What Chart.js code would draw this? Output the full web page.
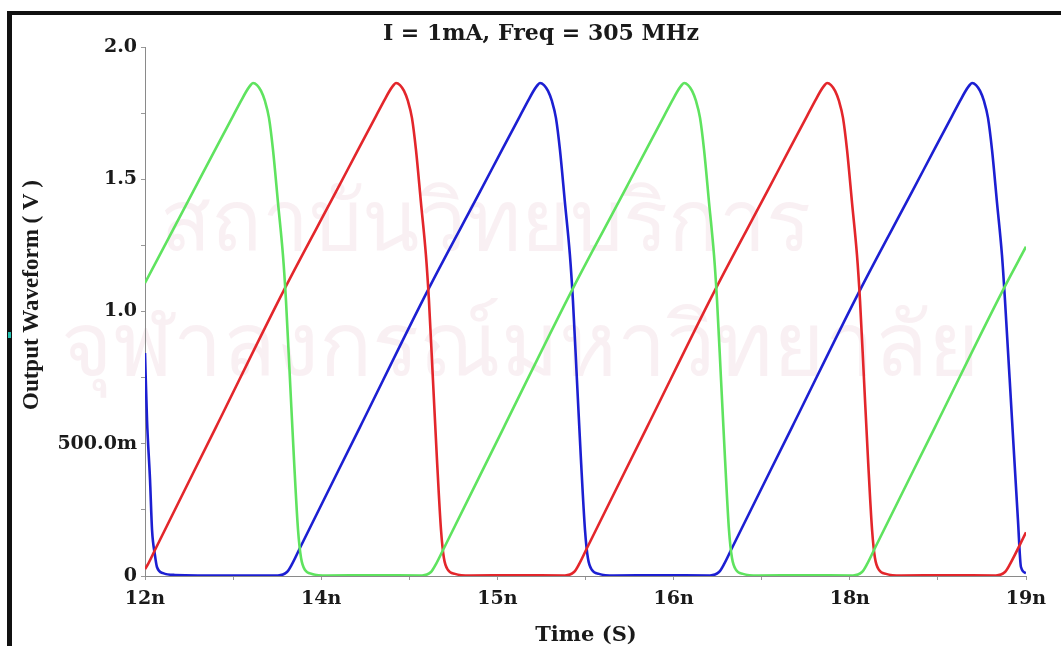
<!DOCTYPE html>
<html><head><meta charset="utf-8">
<script src="https://cdn.jsdelivr.net/npm/chart.js@4.4.1/dist/chart.umd.min.js"></script>
<style>html,body{margin:0;padding:0;background:#fff;overflow:hidden}#wrap{width:1061px;height:646px}</style>
</head><body><div id="wrap"><canvas id="c" width="1061" height="646"></canvas></div>
<script>
const CHART_TITLE = 'I = 1mA, Freq = 305 MHz';
const X_TITLE = 'Time (S)';
const Y_TITLE = 'Output Waveform ( V )';
const WATERMARK = ['สถาบันวิทยบริการ', 'จุฬาลงกรณ์มหาวิทยาลัย'];

const X_TICK_LABELS = ['12n', '', '14n', '', '15n', '', '16n', '', '18n', '', '19n'];
const Y_TICK_LABELS = ['0', '', '500.0m', '', '1.0', '', '1.5', '', '2.0'];

// time in ns, voltage in V
const greenT = [12.000, 12.381, 12.564, 12.699, 12.763, 12.802, 12.834, 12.858, 12.890, 12.922, 12.953, 12.985, 13.017, 13.057, 13.096, 13.120, 13.152, 13.184, 13.216, 13.240, 13.271, 13.327, 13.446, 13.812,
  14.201, 14.272, 14.312, 14.376, 14.852, 15.393, 15.806, 15.989, 16.124, 16.188, 16.227, 16.259, 16.283, 16.315, 16.347, 16.378, 16.410, 16.442, 16.482, 16.521, 16.545, 16.577, 16.609, 16.640, 16.664, 16.696, 16.751, 16.871, 17.244,
  17.625, 17.697, 17.737, 17.800, 18.277, 18.817, 19.000];
const greenV = [1.108, 1.452, 1.618, 1.739, 1.796, 1.830, 1.853, 1.864, 1.856, 1.834, 1.796, 1.732, 1.611, 1.410, 1.214, 1.043, 0.741, 0.439, 0.174, 0.068, 0.023, 0.008, 0.002, 0.003,
  0.002, 0.015, 0.045, 0.106, 0.563, 1.081, 1.452, 1.618, 1.739, 1.796, 1.830, 1.853, 1.864, 1.856, 1.834, 1.796, 1.732, 1.611, 1.410, 1.214, 1.043, 0.741, 0.439, 0.174, 0.068, 0.023, 0.008, 0.002, 0.003,
  0.002, 0.015, 0.045, 0.106, 0.563, 1.081, 1.245];

const redT = [12.000, 12.024, 12.087, 12.564, 13.104, 13.517, 13.700, 13.835, 13.899, 13.938, 13.970, 13.994, 14.026, 14.058, 14.089, 14.121, 14.153, 14.193, 14.232, 14.256, 14.288, 14.320, 14.352, 14.375, 14.407, 14.463, 14.582, 14.947,
  15.337, 15.409, 15.449, 15.512, 15.989, 16.529, 16.942, 17.125, 17.260, 17.324, 17.363, 17.395, 17.419, 17.451, 17.483, 17.514, 17.546, 17.578, 17.618, 17.657, 17.681, 17.713, 17.745, 17.777, 17.800, 17.832, 17.888, 18.007, 18.372,
  18.761, 18.833, 18.873, 19.000];
const redV = [0.026, 0.045, 0.106, 0.563, 1.081, 1.452, 1.618, 1.739, 1.796, 1.830, 1.853, 1.864, 1.856, 1.834, 1.796, 1.732, 1.611, 1.410, 1.214, 1.043, 0.741, 0.439, 0.174, 0.068, 0.023, 0.008, 0.002, 0.003,
  0.002, 0.015, 0.045, 0.106, 0.563, 1.081, 1.452, 1.618, 1.739, 1.796, 1.830, 1.853, 1.864, 1.856, 1.834, 1.796, 1.732, 1.611, 1.410, 1.214, 1.043, 0.741, 0.439, 0.174, 0.068, 0.023, 0.008, 0.002, 0.003,
  0.002, 0.015, 0.045, 0.165];

const blueT = [12.000, 12.016, 12.040, 12.056, 12.079, 12.095, 12.143, 12.238, 12.675,
  13.056, 13.128, 13.168, 13.231, 13.708, 14.248, 14.661, 14.844, 14.979, 15.043, 15.082, 15.114, 15.138, 15.170, 15.202, 15.233, 15.265, 15.297, 15.337, 15.376, 15.400, 15.432, 15.464, 15.496, 15.519, 15.551, 15.607, 15.726, 16.091,
  16.489, 16.561, 16.601, 16.664, 17.141, 17.681, 18.094, 18.277, 18.412, 18.476, 18.515, 18.547, 18.571, 18.603, 18.635, 18.666, 18.698, 18.730, 18.770, 18.809, 18.833, 18.889, 18.936, 18.960, 19.000];
const blueV = [0.843, 0.590, 0.363, 0.174, 0.079, 0.034, 0.011, 0.004, 0.002,
  0.002, 0.015, 0.045, 0.106, 0.563, 1.081, 1.452, 1.618, 1.739, 1.796, 1.830, 1.853, 1.864, 1.856, 1.834, 1.796, 1.732, 1.611, 1.410, 1.214, 1.043, 0.741, 0.439, 0.174, 0.068, 0.023, 0.008, 0.002, 0.003,
  0.002, 0.015, 0.045, 0.106, 0.563, 1.081, 1.452, 1.618, 1.739, 1.796, 1.830, 1.853, 1.864, 1.856, 1.834, 1.796, 1.732, 1.611, 1.410, 1.214, 1.043, 0.590, 0.212, 0.034, 0.011];

const COLORS = { green: '#5fe35f', red: '#e3262b', blue: '#1c1fd2' };

function pts(t, v) { return t.map((x, i) => ({ x: x, y: v[i] })); }

const decor = {
  id: 'decor',
  beforeDraw(chart) {
    const ctx = chart.ctx;
    ctx.save();
    ctx.fillStyle = '#ffffff';
    ctx.fillRect(0, 0, chart.width, chart.height);
    // watermark
    ctx.fillStyle = 'rgba(200, 110, 140, 0.10)';
    ctx.textAlign = 'center';
    ctx.textBaseline = 'alphabetic';
    ctx.font = '84px "Noto Sans", "DejaVu Sans", sans-serif';
    ctx.fillText(WATERMARK[0], 485, 250);
    ctx.font = '88px "Noto Sans", "DejaVu Sans", sans-serif';
    ctx.fillText(WATERMARK[1], 520, 375);
    // frame
    ctx.fillStyle = '#111111';
    ctx.fillRect(7, 11, 1054, 4);
    ctx.fillRect(7, 11, 5, 635);
    ctx.fillStyle = '#22c2b2';
    ctx.fillRect(8, 332, 3, 6);
    ctx.restore();
  },
  afterDraw(chart) {
    const ctx = chart.ctx;
    ctx.save();
    ctx.fillStyle = '#1a1a1a';
    ctx.textAlign = 'center';
    ctx.textBaseline = 'alphabetic';
    ctx.font = 'bold 22px "DejaVu Serif"';
    ctx.fillText(CHART_TITLE, 541, 40);
    ctx.font = 'bold 21px "DejaVu Serif"';
    ctx.fillText(X_TITLE, 586, 641);
    ctx.translate(38, 295);
    ctx.rotate(-Math.PI / 2);
    ctx.font = 'bold 23px "Liberation Serif"';
    ctx.fillText(Y_TITLE, 0, 0);
    ctx.restore();
  }
};

const tickFont = { family: 'DejaVu Serif', size: 19, weight: 'bold' };

new Chart(document.getElementById('c'), {
  type: 'line',
  data: {
    datasets: [
      { label: 'green', data: pts(greenT, greenV), borderColor: COLORS.green },
      { label: 'red', data: pts(redT, redV), borderColor: COLORS.red },
      { label: 'blue', data: pts(blueT, blueV), borderColor: COLORS.blue }
    ]
  },
  options: {
    responsive: false,
    animation: false,
    devicePixelRatio: 1,
    layout: { padding: { left: 0, right: 35, top: 47, bottom: 0 } },
    elements: {
      point: { radius: 0 },
      line: { borderWidth: 2.6, cubicInterpolationMode: 'monotone', fill: false }
    },
    plugins: { legend: { display: false }, title: { display: false }, tooltip: { enabled: false } },
    scales: {
      x: {
        type: 'linear', min: 12, max: 19,
        afterBuildTicks(scale) { scale.ticks = X_TICK_LABELS.map((_, i) => ({ value: 12 + i * 0.7 })); },
        afterFit(scale) { scale.height = 70; },
        ticks: { autoSkip: false, maxRotation: 0, padding: 8, color: '#1a1a1a', font: tickFont,
          callback: (v, i) => X_TICK_LABELS[i] },
        grid: { display: true, drawOnChartArea: false, drawTicks: true, tickLength: 4, color: '#999999' },
        border: { display: true, color: '#8a8a8a', width: 1 }
      },
      y: {
        type: 'linear', min: 0, max: 2,
        afterBuildTicks(scale) { scale.ticks = Y_TICK_LABELS.map((_, i) => ({ value: i * 0.25 })); },
        afterFit(scale) { scale.width = 145; },
        ticks: { autoSkip: false, padding: 4, color: '#1a1a1a', font: tickFont,
          callback: (v, i) => Y_TICK_LABELS[i] },
        grid: { display: true, drawOnChartArea: false, drawTicks: true, tickLength: 4, color: '#999999' },
        border: { display: true, color: '#8a8a8a', width: 1 }
      }
    }
  },
  plugins: [decor]
});
</script></body></html>
